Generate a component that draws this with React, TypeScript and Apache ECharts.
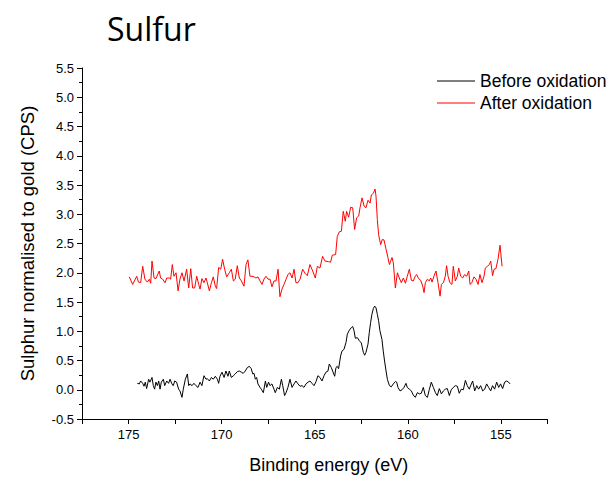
import React, { useEffect, useRef } from "react";
import * as echarts from "echarts";

const titleText = "Sulfur";
const xAxisTitle = "Binding energy (eV)";
const yAxisTitle = "Sulphur normalised to gold (CPS)";
const seriesNames = ["Before oxidation", "After oxidation"];

const beforeEnergy = [
  174.53, 174.42, 174.35, 174.24, 174.17, 174.1, 174.03, 173.92, 173.85, 173.74,
  173.67, 173.6, 173.53, 173.45, 173.38, 173.31, 173.24, 173.13, 173.06, 172.95,
  172.85, 172.77, 172.67, 172.6, 172.52, 172.42, 172.31, 172.24, 172.13, 172.06,
  171.95, 171.84, 171.77, 171.7, 171.59, 171.49, 171.38, 171.27, 171.16, 171.06,
  170.95, 170.84, 170.77, 170.66, 170.55, 170.45, 170.34, 170.23, 170.16, 170.09,
  169.98, 169.87, 169.77, 169.66, 169.59, 169.48, 169.37, 169.27, 169.16, 169.05,
  168.94, 168.84, 168.73, 168.62, 168.51, 168.41, 168.33, 168.26, 168.19, 168.12,
  168.05, 167.94, 167.87, 167.76, 167.65, 167.58, 167.48, 167.4, 167.3, 167.19,
  167.12, 167.01, 166.9, 166.79, 166.72, 166.62, 166.54, 166.44, 166.33, 166.22,
  166.11, 166.01, 165.9,
  165.79, 165.68, 165.58, 165.47, 165.36, 165.26, 165.15, 165.04, 164.93, 164.83,
  164.72, 164.61, 164.5, 164.4, 164.29, 164.22, 164.11, 164.04, 163.93, 163.86,
  163.79, 163.72, 163.61, 163.54, 163.43, 163.32, 163.25, 163.14, 163.04, 162.96,
  162.89, 162.82, 162.71, 162.61, 162.5, 162.39, 162.32, 162.25, 162.14, 162.07,
  162.0, 161.93, 161.85, 161.78, 161.71, 161.64, 161.57, 161.5, 161.39, 161.32,
  161.25, 161.17, 161.1, 160.99, 160.89, 160.78, 160.67, 160.6, 160.53, 160.42,
  160.31, 160.21, 160.1, 160.03, 159.92, 159.81, 159.71, 159.6, 159.49, 159.38,
  159.28, 159.17, 159.06, 158.95, 158.85, 158.74, 158.63, 158.52, 158.42, 158.31,
  158.2, 158.09, 157.99, 157.88, 157.77, 157.67, 157.56, 157.45, 157.34, 157.24,
  157.13, 157.02, 156.91, 156.81, 156.7, 156.59, 156.52, 156.41, 156.3, 156.2,
  156.09, 155.98, 155.87, 155.77, 155.66, 155.55, 155.45, 155.34, 155.23, 155.12,
  155.02, 154.91, 154.8, 154.69, 154.59, 154.51,
];
const beforeSignal = [
  0.11, 0.1, 0.15, 0.11, 0.06, 0.13, 0.02, 0.18, 0.13, 0.21,
  0.07, 0.01, 0.13, 0.07, 0.15, 0.01, 0.13, 0.18, 0.07, 0.15,
  0.11, 0.18, 0.1, 0.07, 0.15, 0.13, 0.01, -0.02, -0.13, 0.01,
  0.18, 0.27, 0.07, 0.1, 0.07, 0.11, 0.07, 0.04, 0.13, 0.07,
  0.24, 0.18, 0.19, 0.15, 0.21, 0.18, 0.23, 0.18, 0.11, 0.23,
  0.3, 0.21, 0.32, 0.23, 0.32, 0.21, 0.24, 0.27, 0.31, 0.32,
  0.3, 0.28, 0.32, 0.38, 0.4, 0.36, 0.27, 0.28, 0.18, 0.21,
  0.1, 0.04, 0.01, -0.05, 0.15, 0.04, 0.13, 0.07, 0.1, 0.01,
  -0.05, 0.04, 0.01, 0.18, 0.07, -0.1, -0.05, 0.04, 0.18, 0.04,
  0.1, 0.15, 0.1,
  0.06, 0.07, 0.04, 0.1, 0.13, 0.15, 0.11, 0.07, 0.14, 0.24,
  0.21, 0.15, 0.24, 0.3, 0.32, 0.44, 0.38, 0.32, 0.23, 0.38,
  0.4, 0.36, 0.58, 0.66, 0.69, 0.81, 0.95, 1.02, 1.06, 1.08,
  1.01, 0.88, 0.89, 0.84, 0.8, 0.64, 0.59, 0.64, 0.78, 0.98,
  1.15, 1.29, 1.39, 1.43, 1.4, 1.29, 1.18, 1.01, 0.86, 0.66,
  0.49, 0.32, 0.18, 0.07, 0.05, 0.1, 0.14, 0.13, 0.04, -0.02,
  0.0, 0.04, 0.11, 0.04, 0.01, -0.02, -0.09, -0.13, -0.05, -0.07,
  -0.06, 0.04, -0.1, -0.13, 0.0, 0.13, 0.04, -0.05, -0.1, 0.02,
  -0.07, -0.02, 0.01, 0.02, -0.1, 0.0, 0.04, 0.07, 0.06, -0.06,
  0.01, 0.0, 0.16, 0.07, 0.01, 0.1, 0.15, -0.02, 0.07, 0.01,
  0.07, -0.02, 0.01, 0.1, 0.04, -0.02, 0.07, 0.01, 0.13, 0.04,
  0.1, 0.02, 0.13, 0.15, 0.13, 0.1,
];

const afterEnergy = [
  174.96, 174.78, 174.56, 174.47, 174.35, 174.24, 174.12, 173.99, 173.88, 173.81,
  173.74, 173.63, 173.53, 173.35, 173.28, 173.17, 173.04, 172.95, 172.81, 172.74,
  172.65, 172.56, 172.45, 172.34, 172.24, 172.13, 172.02, 171.88, 171.77, 171.66,
  171.56, 171.45, 171.34, 171.23, 171.16, 171.06, 170.95, 170.84, 170.77, 170.66,
  170.55, 170.45, 170.34, 170.27, 170.16, 170.05, 169.95, 169.84, 169.73, 169.59,
  169.48, 169.37, 169.27, 169.16, 169.05, 168.94, 168.8, 168.69, 168.59, 168.48,
  168.37, 168.26, 168.16, 168.05, 167.94, 167.83, 167.73, 167.62, 167.51, 167.4,
  167.3, 167.19, 167.08, 166.97, 166.87, 166.76, 166.65, 166.54, 166.44, 166.33,
  166.22, 166.11, 166.01, 165.9,
  165.79, 165.65, 165.52, 165.4, 165.26, 165.11, 164.97, 164.86, 164.72, 164.58,
  164.45, 164.27, 164.15, 164.06, 163.88, 163.79, 163.68, 163.57, 163.47, 163.36,
  163.29, 163.18, 163.07, 162.96, 162.86, 162.75, 162.64, 162.57, 162.46, 162.35,
  162.25, 162.14, 162.03, 161.96, 161.85, 161.76, 161.71, 161.64, 161.57, 161.46,
  161.37, 161.28, 161.17, 161.07, 160.99, 160.92, 160.85, 160.78, 160.67, 160.56,
  160.46, 160.35, 160.24, 160.13, 160.03, 159.92, 159.81, 159.71, 159.6, 159.53,
  159.42, 159.31, 159.2, 159.13, 159.06, 158.95, 158.85, 158.77, 158.7, 158.6,
  158.49, 158.38, 158.27, 158.2, 158.09, 157.99, 157.92, 157.84, 157.74, 157.63,
  157.56, 157.45, 157.34, 157.27, 157.16, 157.06, 156.95, 156.84, 156.73, 156.66,
  156.56, 156.45, 156.34, 156.23, 156.13, 156.02, 155.91, 155.84, 155.73, 155.62,
  155.55, 155.45, 155.37, 155.27, 155.16, 155.05, 154.94,
];
const afterSignal = [
  1.93, 1.8, 1.94, 1.84, 1.83, 2.11, 1.89, 1.84, 1.89, 1.82,
  2.2, 1.91, 1.9, 2.03, 1.91, 1.89, 1.83, 1.91, 1.91, 1.89,
  2.14, 1.94, 2.0, 1.69, 1.89, 2.0, 1.86, 2.06, 1.74, 2.07,
  1.74, 1.74, 1.94, 1.8, 1.72, 1.9, 1.83, 1.91, 1.83, 1.69,
  1.83, 1.93, 1.77, 1.73, 2.09, 2.06, 2.23, 2.06, 1.93, 2.0,
  2.06, 1.86, 1.89, 2.12, 1.91, 1.86, 1.77, 2.14, 2.22, 1.94,
  1.94, 1.93, 1.91, 1.93, 1.86, 1.8, 1.89, 1.94, 1.89, 1.89,
  1.76, 1.86, 1.86, 2.06, 1.59, 1.72, 1.8, 1.89, 1.97, 2.0,
  1.91, 2.06, 1.83, 1.83,
  1.89, 2.06, 1.99, 1.95, 2.14, 2.03, 1.91, 2.11, 2.08, 2.28,
  2.2, 2.19, 2.18, 2.3, 2.31, 2.62, 2.7, 2.71, 3.05, 2.88,
  3.05, 2.95, 3.12, 3.11, 2.74, 2.94, 2.97, 3.11, 3.28, 3.14,
  3.11, 3.24, 3.19, 3.33, 3.36, 3.43, 3.31, 2.91, 2.65, 2.48,
  2.57, 2.56, 2.4, 2.26, 2.14, 2.2, 2.26, 2.17, 1.74, 2.0,
  1.91, 1.83, 1.91, 1.82, 1.94, 2.06, 1.87, 1.86, 1.94, 1.97,
  1.9, 1.87, 1.77, 1.66, 1.83, 1.89, 1.86, 1.91, 1.84, 1.94,
  2.03, 1.83, 1.6, 1.8, 1.83, 1.94, 2.12, 1.94, 1.83, 1.8,
  2.11, 1.86, 1.94, 2.08, 1.94, 1.91, 1.97, 1.94, 2.03, 1.8,
  1.83, 1.93, 1.89, 1.8, 1.97, 1.83, 1.94, 2.08, 2.11, 2.14,
  2.2, 1.95, 2.06, 2.07, 2.23, 2.47, 2.11,
];

const xMin = 152.5;
const xMax = 177.5;
const xStep = 2.5;
const yMin = -0.5;
const yMax = 5.5;
const yStep = 0.5;

const pairs = (xs: number[], ys: number[]) => xs.map((x, i) => [x, ys[i]]);

export default function App() {
  const ref = useRef<HTMLDivElement>(null);
  useEffect(() => {
    if (!ref.current) return;
    const chart = echarts.init(ref.current, undefined, { renderer: "svg" });
    const axisFont = "Liberation Sans, Arial, sans-serif";
    chart.setOption({
      animation: false,
      backgroundColor: "#ffffff",
      title: {
        text: titleText,
        left: 102,
        top: 7,
        textStyle: {
          fontFamily: "Open Sans, Noto Sans, sans-serif",
          fontSize: 32,
          fontWeight: "normal",
          color: "#000",
        },
      },
      legend: {
        orient: "vertical",
        left: 432,
        top: 67,
        itemWidth: 38,
        itemHeight: 14,
        itemGap: 4,
        icon: "path://M0,0h38v1h-38z",
        itemStyle: { borderWidth: 0 },
        data: seriesNames,
        textStyle: { fontFamily: axisFont, fontSize: 17.5, lineHeight: 16, color: "#000" },
      },
      grid: { left: 82, right: 63.5, top: 68, bottom: 59, containLabel: false },
      xAxis: {
        type: "value",
        min: xMin,
        max: xMax,
        interval: xStep,
        inverse: true,
        name: xAxisTitle,
        nameLocation: "middle",
        nameGap: 37,
        nameTextStyle: { fontFamily: axisFont, fontSize: 18, color: "#000", padding: [0, 0, 0, 28] },
        axisLine: { show: true, onZero: false, lineStyle: { color: "#000", width: 1 } },
        axisTick: { show: true, inside: false, length: 5, lineStyle: { color: "#000" } },
        axisLabel: {
          color: "#000",
          fontFamily: axisFont,
          fontSize: 13,
          margin: 9,
          formatter: (v: number) => (Math.abs(v % 5) < 1e-6 ? String(v) : ""),
        },
        splitLine: { show: false },
      },
      yAxis: {
        type: "value",
        min: yMin,
        max: yMax,
        interval: yStep,
        name: yAxisTitle,
        nameLocation: "middle",
        nameGap: 45,
        nameTextStyle: { fontFamily: axisFont, fontSize: 18.5, color: "#000" },
        axisLine: { show: true, onZero: false, lineStyle: { color: "#000", width: 1 } },
        axisTick: { show: true, inside: false, length: 5, lineStyle: { color: "#000" } },
        minorTick: { show: true, splitNumber: 2, length: 3, lineStyle: { color: "#000" } },
        axisLabel: {
          color: "#000",
          fontFamily: axisFont,
          fontSize: 13,
          margin: 8,
          formatter: (v: number) => v.toFixed(1),
        },
        splitLine: { show: false },
      },
      series: [
        {
          name: seriesNames[0],
          type: "line",
          data: pairs(beforeEnergy, beforeSignal),
          showSymbol: false,
          symbol: "none",
          lineStyle: { color: "#000000", width: 1 },
          itemStyle: { color: "#000000" },
        },
        {
          name: seriesNames[1],
          type: "line",
          data: pairs(afterEnergy, afterSignal),
          showSymbol: false,
          symbol: "none",
          lineStyle: { color: "#ff0000", width: 1 },
          itemStyle: { color: "#ff0000" },
        },
      ],
    });
    return () => chart.dispose();
  }, []);
  return (
    <div
      ref={ref}
      style={{ position: "fixed", left: 0, top: 0, width: 611, height: 479, background: "#fff" }}
    />
  );
}
